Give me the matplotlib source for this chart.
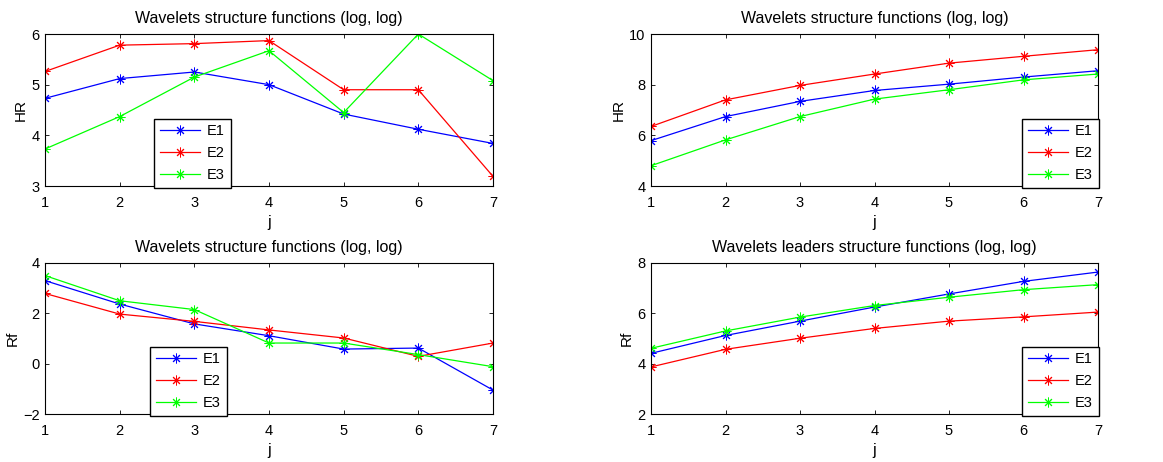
import numpy as np
import matplotlib
matplotlib.use('Agg')
import matplotlib.pyplot as plt

plt.rcParams['font.family'] = ['Liberation Sans', 'DejaVu Sans']
plt.rcParams['font.size'] = 10.5

j = [1, 2, 3, 4, 5, 6, 7]
labels = ['E1', 'E2', 'E3']
colors = ['#0000ff', '#ff0000', '#00ff00']

# wavelet structure functions, HR
hr_ws = [[4.73, 5.12, 5.25, 5.00, 4.42, 4.12, 3.84],
         [5.26, 5.78, 5.81, 5.87, 4.90, 4.90, 3.19],
         [3.73, 4.37, 5.15, 5.67, 4.45, 6.00, 5.08]]
# wavelet structure functions (second method), HR
hr_wl = [[5.79, 6.74, 7.34, 7.77, 8.02, 8.30, 8.55],
         [6.35, 7.40, 7.97, 8.42, 8.85, 9.12, 9.38],
         [4.80, 5.82, 6.74, 7.43, 7.80, 8.19, 8.42]]
# wavelet structure functions, Rf
rf_ws = [[3.30, 2.37, 1.58, 1.11, 0.58, 0.62, -1.05],
         [2.79, 1.97, 1.68, 1.34, 1.02, 0.29, 0.82],
         [3.50, 2.50, 2.15, 0.82, 0.82, 0.36, -0.12]]
# wavelet leaders structure functions, Rf
rf_wl = [[4.41, 5.12, 5.69, 6.25, 6.77, 7.27, 7.64],
         [3.87, 4.57, 5.01, 5.40, 5.69, 5.86, 6.05],
         [4.61, 5.30, 5.85, 6.31, 6.64, 6.94, 7.14]]

panels = [
    (hr_ws, 'Wavelets structure functions (log, log)', 'HR', (3, 6), [3, 4, 5, 6], 0.243),
    (hr_wl, 'Wavelets structure functions (log, log)', 'HR', (4, 10), [4, 6, 8, 10], 0.83),
    (rf_ws, 'Wavelets structure functions (log, log)', 'Rf', (-2, 4), [-2, 0, 2, 4], 0.234),
    (rf_wl, 'Wavelets leaders structure functions (log, log)', 'Rf', (2, 8), [2, 4, 6, 8], 0.83),
]

W, H = 1163, 462
fig = plt.figure(figsize=(W / 100, H / 100), dpi=100)
boxes = [(45, 34, 493, 186), (651, 34, 1098, 186),
         (45, 263, 493, 414), (651, 263, 1098, 414)]

for (data, title, ylab, ylim, yt, lx), (x0, y0, x1, y1) in zip(panels, boxes):
    ax = fig.add_axes([x0 / W, 1 - y1 / H, (x1 - x0) / W, (y1 - y0) / H])
    for vals, c, lab in zip(data, colors, labels):
        ax.plot(j, vals, color=c, lw=0.9, marker=(8, 2, 0), markersize=7,
                markeredgewidth=0.7, label=lab)
    ax.set_xlim(1, 7)
    ax.set_ylim(*ylim)
    ax.set_xticks(j)
    ax.set_yticks(yt)
    ax.tick_params(direction='in', length=3, width=0.6, top=True, right=True,
                   labelsize=10.5)
    ax.tick_params(axis='x', pad=7)
    ax.tick_params(axis='y', pad=4)
    for s in ax.spines.values():
        s.set_linewidth(0.8)
    ax.set_title(title, fontsize=11.5, pad=8)
    ax.set_xlabel('j', fontsize=11.5, labelpad=4)
    ax.set_ylabel(ylab, fontsize=11, labelpad=2.5)
    leg = ax.legend(loc='lower left', bbox_to_anchor=(lx, -0.015),
                    borderaxespad=0, fancybox=False, framealpha=1,
                    edgecolor='black', handlelength=2.75, handletextpad=0.5,
                    borderpad=0.4, labelspacing=0.55, fontsize=10.5)
    leg.get_frame().set_linewidth(1.0)

fig.savefig('out.png', dpi=100)
